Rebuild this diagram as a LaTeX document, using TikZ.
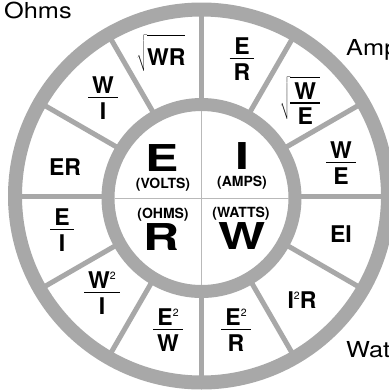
\documentclass[tikz,border=0pt]{standalone}
\usepackage{fontspec}
\usepackage{graphicx}
\setmainfont{TeX Gyre Heros}
\usetikzlibrary{calc}
\definecolor{ringgray}{RGB}{168,168,168}
\definecolor{thingray}{RGB}{185,185,185}
\newcommand\fr[2]{\vbox{\offinterlineskip\halign{\hskip4pt\hfil##\hfil\hskip4pt\cr #1\cr\noalign{\kern3pt\hrule height1.8pt\kern4pt}#2\cr}}}
\newcommand\sqw[1]{$\sqrt{\vrule width0pt height28pt depth5pt\hbox{#1}}$}
\newcommand\sqf[2]{$\sqrt{\vrule width0pt height36pt depth0pt\smash{\lower8pt\hbox{\fr{#1}{#2}}}}$}
\newcommand\sqr{\raisebox{9pt}{\fontsize{10.5}{10.5}\selectfont\mdseries 2}}
\newcommand\wide[1]{\scalebox{1.35}[1]{#1}}
\newcommand\wq[1]{\scalebox{1.15}[1]{#1}}
\begin{document}
\begin{tikzpicture}[x=1pt,y=-1pt,
  lbl/.style={font=\fontsize{23}{23}\selectfont\bfseries, inner sep=0pt},
  big/.style={font=\fontsize{37}{37}\selectfont\bfseries, inner sep=0pt},
  unit/.style={font=\fontsize{14}{14}\selectfont\bfseries, inner sep=0pt},
  qty/.style={font=\fontsize{22}{22}\selectfont, inner sep=0pt, anchor=base west},
  ring/.style={fill=ringgray, even odd rule},
  spoke/.style={draw=ringgray, line width=5pt},
  thin/.style={draw=thingray, line width=1pt}]
\useasboundingbox (0,0) rectangle (389,392);
\fill[white] (0,0) rectangle (389,392);
\coordinate (oc) at (201.5,196);
\coordinate (ic) at (201.5,198);
\fill[ring] (oc) circle[radius=193.5pt] (oc) circle[radius=179.5pt];
\foreach \a in {0,30,...,330}
  \draw[spoke] ($(oc)+(\a:90pt)$) -- ($(oc)+(\a:185pt)$);
\fill[white] (ic) circle[radius=88pt];
\fill[ring] (ic) circle[radius=100pt] (ic) circle[radius=87pt];
\coordinate (vt) at ($(ic)+(0,-87)$);
\coordinate (vb) at ($(ic)+(0,87)$);
\coordinate (hl) at ($(ic)+(-87,0)$);
\coordinate (hr) at ($(ic)+(87,0)$);
\draw[thin] (vt) -- (vb);
\draw[thin] (hl) -- (hr);
% center quadrants
\node[big] (E) at (162,158) {\wide{E}};
\node[unit] (volts) at (163,185) {(VOLTS)};
\node[big] (I) at (242,156) {\wide{I}};
\node[unit] (amps) at (242,183) {(AMPS)};
\node[unit] (ohms) at (163,215) {(OHMS)};
\node[big] (R) at (162,237) {\wide{R}};
\node[unit] (watts) at (241,214) {(WATTS)};
\node[big] (W) at (242,236) {\wide{W}};
% outer wedges
\node[lbl] (sWR) at (161,53) {\sqw{WR}};
\node[lbl] (ER1) at (242,59) {\fr{E}{R}};
\node[lbl] (sWE) at (300,98) {\sqf{W}{E}};
\node[lbl] (WE) at (341,163) {\fr{W}{E}};
\node[lbl] (EI) at (341,234) {EI};
\node[lbl] (I2R) at (302,300) {I\sqr R};
\node[lbl] (E2R) at (236,330) {\fr{E\sqr}{R}};
\node[lbl] (E2W) at (168,330) {\fr{E\sqr}{W}};
\node[lbl] (W2I) at (102,293) {\fr{W\sqr}{I}};
\node[lbl] (EI1) at (62,230) {\fr{E}{I}};
\node[lbl] (ER) at (65,167) {ER};
\node[lbl] (WI) at (103,98) {\fr{W}{I}};
% quantity names
\node[qty] (lohms) at (4,18) {\wq{Ohms}};
\node[qty] (lamps) at (346,55) {\wq{Amp}};
\node[qty] (lwatts) at (346,357) {\wq{Wat}};
\end{tikzpicture}
\end{document}
